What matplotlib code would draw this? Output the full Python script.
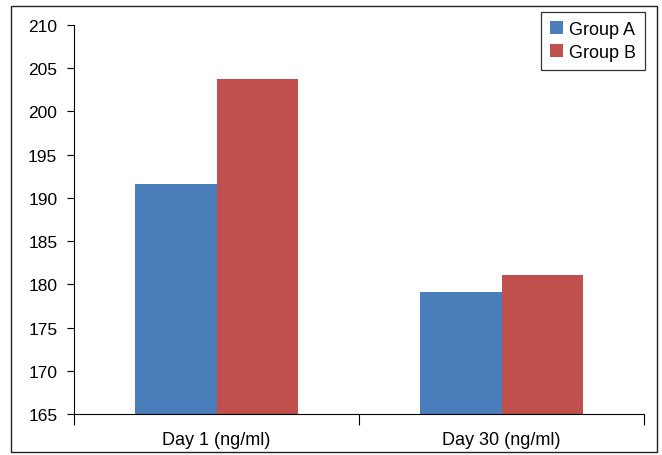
import numpy as np
import matplotlib
matplotlib.use("Agg")
from matplotlib import pyplot as plt
from matplotlib.patches import Rectangle

categories = ["Day 1 (ng/ml)", "Day 30 (ng/ml)"]
group_a = [191.6, 179.1]
group_b = [203.7, 181.1]
series_names = ["Group A", "Group B"]
y_ticks = [165, 170, 175, 180, 185, 190, 195, 200, 205, 210]

BLUE = "#4A7EBB"
RED = "#C0504D"

plt.rcParams["font.family"] = ["Liberation Sans", "DejaVu Sans"]

fig = plt.figure(figsize=(6.62, 4.56), dpi=100)
ax = fig.add_axes([74 / 662, 41 / 456, 570 / 662, 389 / 456])

# outer frame around the whole figure
fig.patches.append(Rectangle((11 / 662, 3 / 456), 646 / 662, 446 / 456,
                             transform=fig.transFigure, fill=False,
                             edgecolor="#222222", linewidth=1.0))

x = np.arange(len(categories))
w = 0.285
ax.bar(x - w / 2, np.array(group_a) - 165, w, bottom=165, color=BLUE, label=series_names[0])
ax.bar(x + w / 2, np.array(group_b) - 165, w, bottom=165, color=RED, label=series_names[1])

ax.set_xlim(-0.5, 1.5)
ax.set_ylim(165, 210)
ax.set_yticks(y_ticks)
ax.tick_params(axis="y", direction="out", length=5, width=0.8, pad=7, labelsize=12.5)

# ticks at category boundaries, labels at centers
ax.set_xticks([-0.5, 0.5, 1.5])
ax.set_xticklabels([])
ax.set_xticks(x, minor=True)
ax.set_xticklabels(categories, minor=True)
ax.tick_params(axis="x", which="major", direction="out", length=8, width=0.8)
ax.tick_params(axis="x", which="minor", length=0, pad=12, labelsize=13)

for s in ["top", "right"]:
    ax.spines[s].set_visible(False)
for s in ["left", "bottom"]:
    ax.spines[s].set_linewidth(0.8)

leg = ax.legend(loc="upper right", bbox_to_anchor=(1.012, 1.048), fontsize=13,
                fancybox=False, edgecolor="#333333", framealpha=1,
                handlelength=0.7, handleheight=0.7, handletextpad=0.35,
                borderpad=0.5, labelspacing=0.35, borderaxespad=0.3)
leg.get_frame().set_linewidth(0.9)

fig.savefig("out.png", dpi=100)
